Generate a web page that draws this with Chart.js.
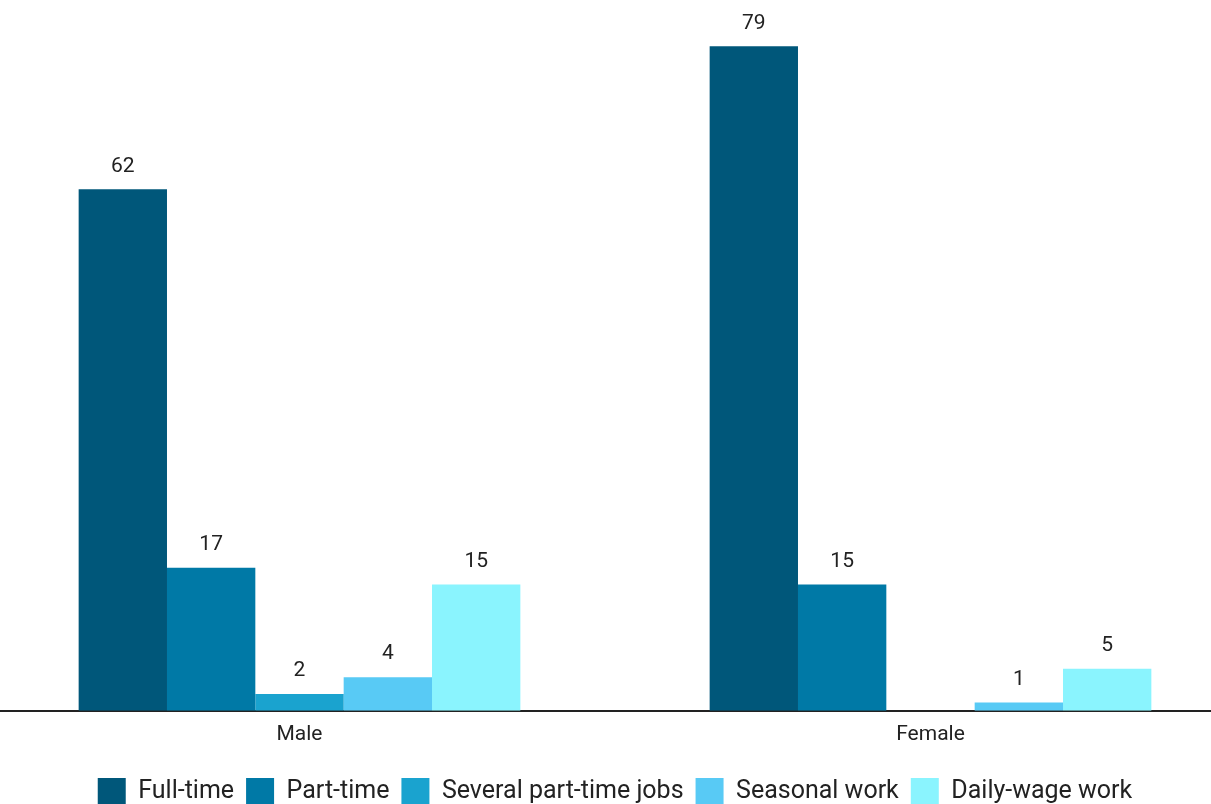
<!DOCTYPE html>
<html>
<head>
<meta charset="utf-8">
<script src="https://cdn.jsdelivr.net/npm/chart.js@4"></script>
<style>
  html, body { margin: 0; padding: 0; background: #fff; overflow: hidden; }
  #frame { width: 1211px; height: 804px; overflow: hidden; position: relative; }
  #wrap { position: absolute; left: -16px; top: 0; width: 1262px; height: 816px; }
</style>
</head>
<body>
<div id="frame"><div id="wrap"><canvas id="chart"></canvas></div></div>
<script>
// Data
const categories = ['Male', 'Female'];
const seriesNames = ['Full-time', 'Part-time', 'Several part-time jobs', 'Seasonal work', 'Daily-wage work'];
const fullTime = [62, 79];
const partTime = [17, 15];
const severalJobs = [2, 0];
const seasonal = [4, 1];
const dailyWage = [15, 5];
const seriesColors = ['#00577A', '#0079A6', '#1AA3CF', '#58CAF5', '#8AF4FE'];

// Value labels above bars (skip zeros)
const valueLabels = {
  id: 'valueLabels',
  afterDatasetsDraw(chart) {
    const ctx = chart.ctx;
    ctx.save();
    ctx.font = '21px Roboto';
    ctx.fillStyle = '#222';
    ctx.textAlign = 'center';
    ctx.textBaseline = 'middle';
    chart.data.datasets.forEach((ds, i) => {
      chart.getDatasetMeta(i).data.forEach((bar, j) => {
        if (!ds.data[j]) return;
        ctx.fillText(ds.data[j], bar.x, bar.y - 23);
      });
    });
    ctx.restore();
  }
};

const allSeries = [fullTime, partTime, severalJobs, seasonal, dailyWage];

new Chart(document.getElementById('chart'), {
  type: 'bar',
  data: {
    labels: categories,
    datasets: allSeries.map((values, i) => ({
      label: seriesNames[i],
      data: values,
      backgroundColor: seriesColors[i],
      borderWidth: 0
    }))
  },
  options: {
    responsive: true,
    maintainAspectRatio: false,
    animation: false,
    layout: { padding: 0 },
    datasets: { bar: { barPercentage: 1, categoryPercentage: 0.7 } },
    scales: {
      x: {
        grid: { display: false },
        border: { color: '#222', width: 2 },
        ticks: { color: '#222', font: { family: 'Roboto', size: 21 }, padding: 3 },
        // extra room between the category labels and the legend
        afterFit(scale) { scale.height += 16; }
      },
      y: {
        display: false,
        min: 0,
        max: 84.5
      }
    },
    plugins: {
      legend: {
        position: 'bottom',
        labels: {
          color: '#222',
          font: { family: 'Roboto', size: 25 },
          boxWidth: 28,
          boxHeight: 28,
          padding: 12
        }
      },
      tooltip: { enabled: false }
    }
  },
  plugins: [valueLabels]
});
</script>
</body>
</html>
